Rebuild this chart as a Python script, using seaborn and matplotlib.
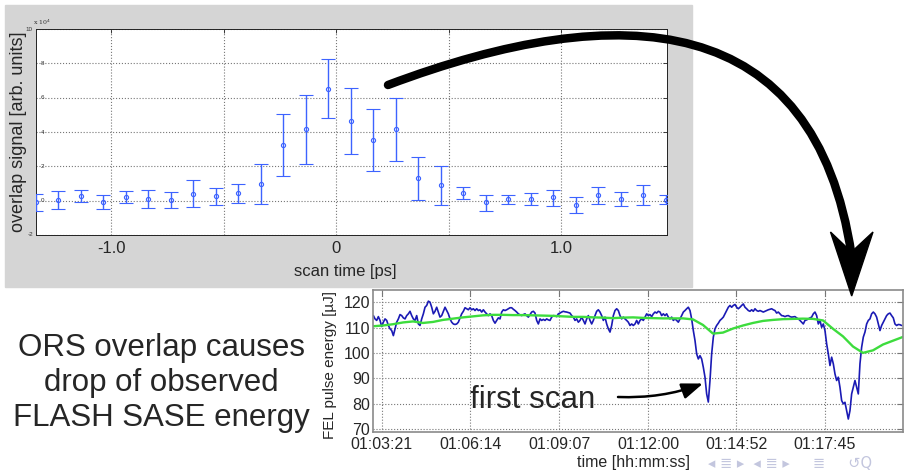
import matplotlib

matplotlib.use("Agg")

import matplotlib.pyplot as plt
import numpy as np
import pandas as pd
import seaborn as sns

from matplotlib.patches import FancyArrowPatch, PathPatch, Polygon, Rectangle
from matplotlib.path import Path
from matplotlib.ticker import FuncFormatter

sns.set_theme(style="white")
plt.rcParams["font.family"] = ["Liberation Sans", "DejaVu Sans"]

# --- top panel: ORS overlap scan (signal in units of 1e4) -------------------
scan_ps = [-1.335, -1.235, -1.135, -1.035, -0.935, -0.835, -0.735, -0.635,
           -0.535, -0.435, -0.335, -0.235, -0.135, -0.035, 0.065, 0.165,
           0.265, 0.365, 0.465, 0.565, 0.665, 0.765, 0.865, 0.965, 1.065,
           1.165, 1.265, 1.365, 1.465]
signal_e4 = [-0.10, 0.06, 0.25, -0.08, 0.23, 0.12, 0.04, 0.41, 0.25, 0.45,
             0.97, 3.26, 4.17, 6.52, 4.64, 3.53, 4.16, 1.30, 0.89, 0.45,
             -0.08, 0.08, 0.08, 0.19, -0.25, 0.31, 0.12, 0.33, 0.04]
signal_hi = [0.39, 0.54, 0.60, 0.33, 0.54, 0.62, 0.49, 1.18, 0.74, 0.97,
             2.14, 5.05, 6.16, 8.23, 6.56, 5.34, 5.98, 2.54, 2.02, 0.82,
             0.33, 0.33, 0.45, 0.62, 0.21, 0.80, 0.49, 0.91, 0.33]
signal_lo = [-0.62, -0.49, -0.08, -0.49, -0.14, -0.45, -0.43, -0.37, -0.25,
             -0.12, -0.19, 1.44, 2.14, 4.83, 2.72, 1.71, 2.33, 0.04, -0.25,
             0.08, -0.58, -0.17, -0.23, -0.31, -0.70, -0.21, -0.31, -0.23,
             -0.19]
scan_ticks = [-1.0, -0.5, 0.0, 0.5, 1.0]
scan_ticklabels = ["-1.0", "", "0", "", "1.0"]
signal_ticks = [-2, 0, 2, 4, 6, 8, 10]

# --- bottom panel: FEL pulse energy, logged at a fixed rate -----------------
# times are seconds after 01:00:00
FEL_T0, FEL_DT = 184.7, 3.248
fel_energy = [
    114.7, 113.4, 112.8, 114.3, 112.8, 110.4, 112.1, 113.4, 112.8, 110.8,
    109.5, 108.8, 106.8, 109.5, 112.1, 113.4, 115.1, 114.7, 113.8, 113.4,
    114.7, 115.4, 116.4, 114.7, 113.4, 112.8, 114.7, 111.4, 110.8, 113.4,
    115.4, 118.0, 118.7, 120.4, 120.0, 118.0, 115.4, 116.4, 118.0, 116.1,
    114.1, 114.7, 116.4, 118.0, 116.7, 115.4, 113.4, 112.1, 111.4, 111.2,
    111.4, 112.1, 113.8, 115.4, 116.4, 117.8, 117.4, 117.0, 117.8, 117.0,
    117.4, 116.7, 117.4, 116.7, 117.0, 116.1, 117.0, 116.1, 115.4, 114.7,
    115.4, 114.7, 112.8, 111.7, 112.8, 113.8, 113.4, 116.1, 117.0,
    116.7, 117.0, 117.4, 117.8, 117.8, 117.2, 116.7, 116.1, 115.4, 115.0,
    114.7, 115.1, 115.4, 114.7, 114.1, 115.1, 116.1, 116.4, 115.7, 112.8,
    111.4, 113.4, 112.8, 113.2, 112.8, 113.4, 113.0, 112.8, 114.1, 114.7,
    114.6, 114.3, 115.4, 115.7, 116.1, 116.4, 116.2, 116.1, 115.9, 115.7,
    114.7, 114.1, 112.8, 113.4, 112.1, 112.8, 114.1, 112.8, 111.4, 113.4,
    114.7, 112.8, 111.4, 112.8, 114.7, 116.4, 117.0, 116.1, 114.7, 112.8,
    114.1, 111.4, 109.5, 108.2, 110.8, 114.7, 116.7, 117.4, 116.7, 114.7,
    113.4, 114.1, 113.4, 112.8, 112.1, 110.8, 111.4, 110.8,
    111.4, 112.8, 111.4, 112.8, 113.4, 112.8, 114.1, 115.4, 114.7, 115.1,
    114.3, 115.4, 116.1, 115.7, 116.4, 116.1, 114.7, 115.4, 114.7, 115.4,
    114.1, 113.4, 114.1, 112.8, 113.4, 112.8, 112.1, 113.4, 114.7, 116.1,
    116.7, 117.4, 118.0, 116.7, 113.4, 108.8, 104.9, 99.6, 97.6, 98.9,
    97.6, 94.3, 90.4, 83.8, 80.6, 89.1, 99.6, 106.2, 109.5, 110.8,
    111.7, 112.8, 113.4, 114.1, 115.4, 116.7, 118.0, 118.7, 118.0, 118.7,
    119.1, 118.0, 117.4, 118.0, 118.7, 119.3, 118.0, 117.4, 116.7, 116.4,
    117.0, 116.4, 117.4, 116.7, 116.4, 116.7, 116.4, 116.1, 116.4,
    116.7, 117.0, 117.2, 117.4, 117.0, 116.7, 115.7, 116.1, 115.4, 114.7,
    114.6, 114.3, 114.6, 114.7, 114.3, 114.1, 114.2, 114.3, 113.8, 113.4,
    112.8, 112.1, 111.4, 112.8, 113.0, 113.4, 113.8, 114.1, 115.4, 116.1,
    114.7, 111.4, 112.8, 110.1, 111.4, 108.8, 103.6, 99.6, 95.0, 98.3,
    95.7, 91.7, 89.1, 90.4, 86.4, 81.2, 79.9, 80.5, 77.2, 73.9,
    77.2, 83.8, 86.4, 89.1, 86.4, 83.8, 95.7, 102.2, 106.2, 108.2,
    111.4, 112.8, 113.4, 115.4, 116.1, 115.4, 114.1, 111.4, 108.8, 110.8,
    112.1, 113.4, 114.7, 115.4, 115.7, 114.7, 113.8, 111.4, 110.8, 111.2,
    111.1, 110.8,
]
# running average, sampled more coarsely
AVG_T0, AVG_DT = 184.0, 19.49
fel_average = [
    110.5, 110.8, 111.3, 112.0, 112.4, 111.8, 112.2, 113.0, 113.5, 114.0,
    114.4, 114.8, 115.0, 115.0, 114.9, 114.9, 114.8, 114.7, 114.6, 114.4,
    114.2, 114.2, 114.0, 113.9, 113.7, 113.9, 114.0, 113.8, 113.7, 113.6,
    113.6, 113.6, 113.2, 111.0, 107.6, 108.0, 109.6, 110.8, 111.8, 112.6,
    113.0, 113.3, 113.4, 113.5, 113.4, 112.8, 109.5, 106.5, 102.5, 100.0,
    101.0, 103.3, 104.8, 106.3,
]
time_ticks = [201, 374, 547, 720, 892, 1065]
energy_ticks = [70, 80, 90, 100, 110, 120]

BLUE_PTS = "#3d63ff"
BLUE_FEL = "#1a1ab4"
GREEN_AVG = "#3ddc3d"

W, H = 911, 471
fig = plt.figure(figsize=(W / 100, H / 100), dpi=100)
fig.patch.set_facecolor("white")


def px_rect(x0, y0, x1, y1):
    """Axes rectangle from pixel corners (origin top-left)."""
    return [x0 / W, 1 - y1 / H, (x1 - x0) / W, (y1 - y0) / H]


# grey slide box behind the scan plot
fig.patches.append(Rectangle((5 / W, 1 - 287 / H), 687 / W, 282 / H,
                             transform=fig.transFigure, color="#d5d5d5",
                             zorder=-1))

# ---------------------------------------------------------------- top plot
ax1 = fig.add_axes(px_rect(36, 29, 667, 235))
ax1.set_facecolor("white")
sig = np.array(signal_e4)
yerr = [sig - np.array(signal_lo), np.array(signal_hi) - sig]
ax1.errorbar(scan_ps, sig, yerr=yerr, fmt="o", ms=3.0, mfc="none",
             mec=BLUE_PTS, mew=0.8, ecolor=BLUE_PTS, elinewidth=1.0,
             capsize=5, capthick=1.0, zorder=3)
ax1.set_xlim(-1.335, 1.47)
ax1.set_ylim(-2, 10)
ax1.set_xticks(scan_ticks)
ax1.set_xticklabels(scan_ticklabels)
ax1.set_yticks(signal_ticks)
ax1.set_yticklabels([])
ax1.tick_params(direction="in", length=3, width=0.6, color="#222",
                top=True, right=True, labelsize=12, pad=4)
ax1.grid(True, ls=":", lw=0.8, color="#777")
for s in ax1.spines.values():
    s.set_color("#222")
    s.set_linewidth(0.7)
# tiny MATLAB-style y labels, as they sit in the source image
ytr = ax1.get_yaxis_transform()
for v in signal_ticks:
    if v in (-2, 10):
        ax1.text(-0.006 if v == 10 else -0.004, v, str(v), transform=ytr,
                 ha="right", va="center", fontsize=4.5, color="#333")
    else:
        ax1.text(0.0106, v, str(v), transform=ytr, ha="center",
                 va="center", fontsize=4.5, color="#333")
ax1.text(-0.005, 1.02, r"x 10$^{4}$", transform=ax1.transAxes, ha="left",
         va="baseline", fontsize=4.5, color="#333", family="DejaVu Serif")
ax1.set_ylabel("overlap signal [arb. units]", fontsize=13)
ax1.yaxis.set_label_coords(-0.0135, 0.5)
ax1.set_xlabel("scan time [ps]", fontsize=12)
ax1.xaxis.set_label_coords(0.4897, -0.14)

# ------------------------------------------------------------- bottom plot
ax2 = fig.add_axes(px_rect(372.7, 290, 902.7, 431.7))
ax2.set_facecolor("white")
fel = pd.DataFrame({"t": FEL_T0 + FEL_DT * np.arange(len(fel_energy)),
                    "E": fel_energy})
avg = pd.DataFrame({"t": AVG_T0 + AVG_DT * np.arange(len(fel_average)),
                    "E": fel_average})
sns.lineplot(data=fel, x="t", y="E", ax=ax2, color=BLUE_FEL, lw=1.2,
             estimator=None, sort=False)
sns.lineplot(data=avg, x="t", y="E", ax=ax2, color=GREEN_AVG, lw=1.7,
             estimator=None, sort=False)
ax2.set_xlim(183.4, 1216.4)
ax2.set_ylim(68.9, 124.8)
ax2.set_xticks(time_ticks)
ax2.xaxis.set_major_formatter(
    FuncFormatter(lambda s, _: f"01:{int(s) // 60:02d}:{int(s) % 60:02d}"))
ax2.set_yticks(energy_ticks)
ax2.tick_params(direction="in", length=4, width=0.8, color="#777",
                top=True, right=True, labelsize=11.5)
ax2.tick_params(axis="x", pad=3.6)
ax2.tick_params(axis="y", pad=2)
ax2.grid(True, ls=":", lw=0.8, color="#777")
for s in ax2.spines.values():
    s.set_color("#8a8a8a")
    s.set_linewidth(1.2)
ax2.set_ylabel("FEL pulse energy [µJ]", fontsize=11)
ax2.yaxis.set_label_coords(-0.067, 0.47)
ax2.set_xlabel("time [hh:mm:ss]", fontsize=11.5)
ax2.xaxis.set_label_coords(0.4917, -0.164)

# ------------------------------------------------ slide text and arrows
ov = fig.add_axes([0, 0, 1, 1], zorder=10)
ov.set_xlim(0, W)
ov.set_ylim(H, 0)
ov.axis("off")

ov.text(161, 383, "ORS overlap causes\ndrop of observed\nFLASH SASE energy",
        ha="center", va="center", fontsize=22.5, linespacing=1.22)
ov.text(470, 408, "first scan", ha="left", va="baseline", fontsize=22.5)
ov.add_patch(FancyArrowPatch((618, 397), (703, 383.5),
                             arrowstyle="-|>,head_length=0.8,head_width=0.3",
                             mutation_scale=16, shrinkA=0, shrinkB=0,
                             connectionstyle="arc3,rad=0.1", lw=1.8,
                             color="black"))

# big curved arrow from the scan peak down to the energy drop
shaft = Path([(388, 85), (622, -3), (815, 10), (851.5, 255)],
             [Path.MOVETO, Path.CURVE4, Path.CURVE4, Path.CURVE4])
ov.add_patch(PathPatch(shaft, fill=False, lw=6.1, color="black",
                       capstyle="round"))
ov.add_patch(Polygon([(851.7, 296), (873, 232), (851.5, 252), (830.5, 232)],
                     closed=True, color="black"))

# beamer navigation symbols
ov.text(708, 463, "◂ ≣ ▸  ◂ ≣ ▸     ≣     ↺Q", ha="left", va="center",
        fontsize=10.5, color="#c3c6de", family="DejaVu Sans")

fig.savefig("out.png", dpi=100)
